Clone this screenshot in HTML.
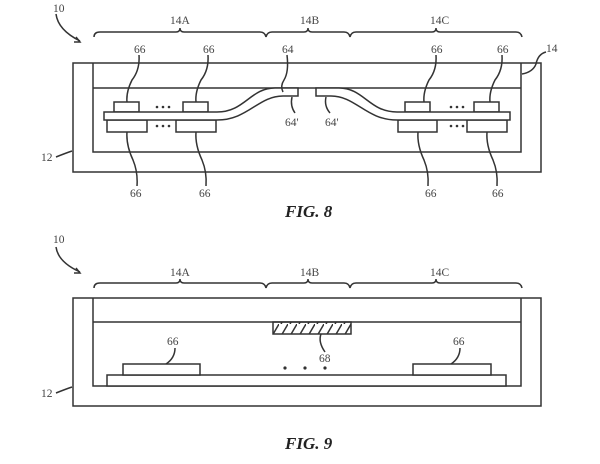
<!DOCTYPE html>
<html><head><style>
html,body{margin:0;padding:0;background:#fff;}
svg{display:block;}
text{font-family:"Liberation Serif",serif;fill:#444;font-size:11.5px;}
.fig{font-weight:bold;font-style:italic;font-size:17px;fill:#222;}
</style></head><body>
<svg width="600" height="464" viewBox="0 0 600 464" xmlns="http://www.w3.org/2000/svg">
<defs>
<pattern id="h" width="9" height="12" patternUnits="userSpaceOnUse">
<line x1="2" y1="12" x2="9" y2="0" stroke="#333" stroke-width="1.5"/>
</pattern>
</defs>
<g fill="none" stroke="#333" stroke-width="1.5">
<!-- FIG 8 -->
<path d="M56 14 Q58 30 80 41"/><path d="M76 37 L80 42 L74 42" />
<path d="M94 37 Q94 32 100 32 L176 32 Q180 32 180 28 Q180 32 184 32 L260 32 Q265 32 266 37 Q267 32 272 32 L304 32 Q308 32 308 28 Q308 32 312 32 L344 32 Q349 32 350 37 Q351 32 356 32 L432 32 Q436 32 436 28 Q436 32 440 32 L516 32 Q521 32 522 37"/>
<rect x="73" y="63" width="468" height="109"/>
<path d="M93 63 L93 152 L521 152 L521 63"/>
<line x1="93" y1="88" x2="521" y2="88"/>
<rect x="114" y="102" width="25" height="10" fill="#fff"/>
<rect x="183" y="102" width="25" height="10" fill="#fff"/>
<rect x="107" y="120" width="40" height="12" fill="#fff"/>
<rect x="176" y="120" width="40" height="12" fill="#fff"/>
<rect x="405" y="102" width="25" height="10" fill="#fff"/>
<rect x="474" y="102" width="25" height="10" fill="#fff"/>
<rect x="398" y="120" width="39" height="12" fill="#fff"/>
<rect x="467" y="120" width="40" height="12" fill="#fff"/>
<path d="M104 112 L217 112 C245 112 250 88 275 88 L298 88 L298 96 L283 96 C258 96 248 120 217 120 L104 120 Z" fill="#fff"/>
<path d="M510 112 L397 112 C369 112 364 88 339 88 L316 88 L316 96 L331 96 C356 96 366 120 397 120 L510 120 Z" fill="#fff"/>
<!-- leaders -->
<path d="M139 55 Q140 70 132 80 Q126 92 127 102"/>
<path d="M208 55 Q209 70 201 80 Q195 92 196 102"/>
<path d="M287 55 Q289 72 284 80 Q280 86 283 92"/>
<path d="M436 55 Q437 70 429 80 Q423 92 424 102"/>
<path d="M502 55 Q503 70 495 80 Q489 92 490 102"/>
<path d="M546 52 Q538 54 536 64 Q533 72 522 74"/>
<path d="M292 97 Q290 106 295 113"/>
<path d="M326 97 Q324 106 330 113"/>
<path d="M127 132 Q126 145 133 160 Q138 172 137 186"/>
<path d="M196 132 Q195 145 202 160 Q207 172 206 186"/>
<path d="M418 132 Q417 145 424 160 Q429 172 428 186"/>
<path d="M487 132 Q486 145 493 160 Q498 172 497 186"/>
<path d="M56 157 Q66 153 72 151" />
<!-- FIG 9 -->
<path d="M56 247 Q58 262 80 272"/><path d="M76 268 L80 273 L74 273"/>
<path d="M94 288 Q94 283 100 283 L176 283 Q180 283 180 279 Q180 283 184 283 L260 283 Q265 283 266 288 Q267 283 272 283 L304 283 Q308 283 308 279 Q308 283 312 283 L344 283 Q349 283 350 288 Q351 283 356 283 L432 283 Q436 283 436 279 Q436 283 440 283 L516 283 Q521 283 522 288"/>
<rect x="73" y="298" width="468" height="108"/>
<path d="M93 298 L93 386 L521 386 L521 298"/>
<line x1="93" y1="322" x2="521" y2="322"/>
<rect x="273" y="322" width="78" height="12" fill="url(#h)"/>
<rect x="107" y="375" width="399" height="11" fill="#fff"/>
<rect x="123" y="364" width="77" height="11" fill="#fff"/>
<rect x="413" y="364" width="78" height="11" fill="#fff"/>
<path d="M175 348 Q175 358 166 364"/>
<path d="M460 348 Q460 358 451 364"/>
<path d="M321 334 Q318 342 325 352"/>
<path d="M56 393 Q66 389 72 387"/>
</g>
<g fill="#333">
<circle cx="157" cy="107" r="1.3"/><circle cx="163" cy="107" r="1.3"/><circle cx="169" cy="107" r="1.3"/>
<circle cx="157" cy="126" r="1.3"/><circle cx="163" cy="126" r="1.3"/><circle cx="169" cy="126" r="1.3"/>
<circle cx="451" cy="107" r="1.3"/><circle cx="457" cy="107" r="1.3"/><circle cx="463" cy="107" r="1.3"/>
<circle cx="451" cy="126" r="1.3"/><circle cx="457" cy="126" r="1.3"/><circle cx="463" cy="126" r="1.3"/>
<circle cx="285" cy="368" r="1.6"/><circle cx="305" cy="368" r="1.6"/><circle cx="325" cy="368" r="1.6"/>
</g>
<g>
<text x="53" y="12">10</text>
<text x="170" y="24">14A</text><text x="300" y="24">14B</text><text x="430" y="24">14C</text>
<text x="134" y="53">66</text><text x="203" y="53">66</text><text x="282" y="53">64</text>
<text x="431" y="53">66</text><text x="497" y="53">66</text><text x="546" y="52">14</text>
<text x="285" y="126">64'</text><text x="325" y="126">64'</text>
<text x="41" y="161">12</text>
<text x="130" y="197">66</text><text x="199" y="197">66</text><text x="425" y="197">66</text><text x="492" y="197">66</text>
<text class="fig" x="285" y="217">FIG. 8</text>
<text x="53" y="243">10</text>
<text x="170" y="276">14A</text><text x="300" y="276">14B</text><text x="430" y="276">14C</text>
<text x="167" y="345">66</text><text x="453" y="345">66</text><text x="319" y="362">68</text>
<text x="41" y="397">12</text>
<text class="fig" x="285" y="449">FIG. 9</text>
</g>
</svg>
</body></html>
